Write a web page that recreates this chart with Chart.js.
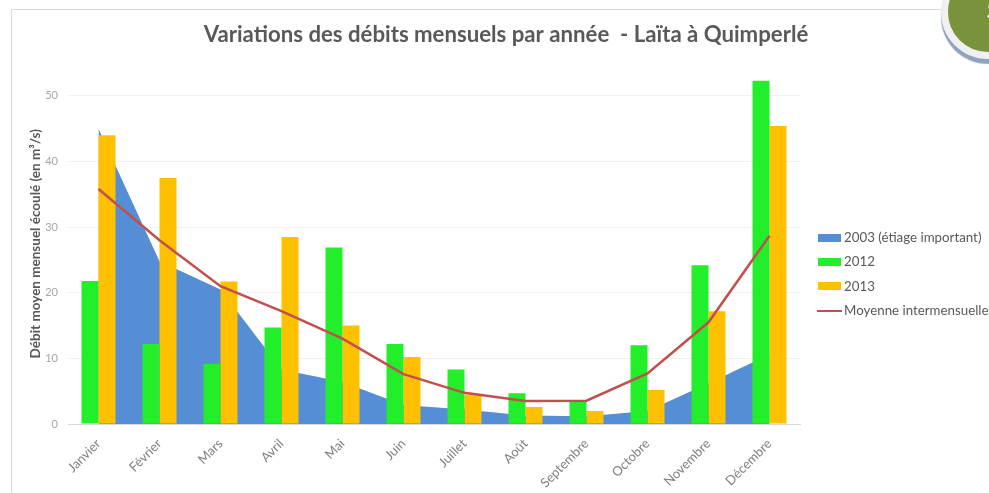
<!DOCTYPE html>
<html><head><meta charset="utf-8">
<style>
html,body{margin:0;padding:0;background:#fff;overflow:hidden}
#wrap{position:relative;width:989px;height:493px;overflow:hidden}
#c{position:absolute;left:0;top:0}
#frameL{position:absolute;left:11px;top:9px;width:1px;height:484px;background:#d9d9d9}
#frameT{position:absolute;left:11px;top:9px;width:935px;height:1px;background:#d9d9d9}
#badge{position:absolute;left:941px;top:-35px;width:80px;height:80px;border-radius:50%;background:#78933c;border:7px solid #f0f0f0;box-sizing:content-box;box-shadow:0 5px 1px #8fa3bd;overflow:hidden;color:#fff;font:bold 28px "Lato"}
#badge span{position:absolute;left:38px;top:19px}
</style></head><body><div id="wrap">
<div id="frameL"></div><div id="frameT"></div>
<canvas id="c" width="989" height="493"></canvas>
<div id="badge"><span>5</span></div>
</div>
<script src="https://cdn.jsdelivr.net/npm/chart.js@4"></script>
<script>
const months=["Janvier","Février","Mars","Avril","Mai","Juin","Juillet","Août","Septembre","Octobre","Novembre","Décembre"];
const y2003=[45,24.8,20.5,8.3,6.4,2.9,2.2,1.3,1.2,2,6.2,10.6];
const y2012=[21.8,12.2,9.2,14.7,26.9,12.2,8.3,4.7,3.6,12,24.2,52.3];
const y2013=[44,37.5,21.7,28.5,15,10.2,4.5,2.6,2,5.2,17.2,45.4];
const moyenne=[35.8,28,21,17.2,13,7.6,4.75,3.5,3.55,7.7,15.5,28.7];
const title="Variations des débits mensuels par année  - Laïta à Quimperlé";
const yTitle="Débit moyen mensuel écoulé (en m³/s)";
const font="Lato";
function swatch(w,h,color){const s=document.createElement('canvas');s.width=w;s.height=h;const g=s.getContext('2d');g.fillStyle=color;g.fillRect(0,0,w,h);return s;}
const legendStyles=[swatch(23,8,'#558ed5'),swatch(23,8,'#22ee2a'),swatch(23,8,'#ffc000'),swatch(25,2,'#c0504d')];
new Chart(document.getElementById('c'),{
 data:{labels:months,datasets:[
  {type:'line',label:'2003 (étiage important)',data:y2003,borderWidth:0,borderColor:'#558ed5',backgroundColor:'#558ed5',pointRadius:0,tension:0,fill:'origin',order:3},
  {type:'bar',label:'2012',data:y2012,backgroundColor:'#22ee2a',order:2},
  {type:'bar',label:'2013',data:y2013,backgroundColor:'#ffc000',order:2},
  {type:'line',label:'Moyenne intermensuelle',data:moyenne,borderColor:'#c0504d',backgroundColor:'#c0504d',borderWidth:2.5,pointRadius:0,tension:0,fill:false,order:1}
 ]},
 options:{responsive:false,animation:false,
  layout:{padding:{left:0,right:189,top:0,bottom:0}},
  datasets:{bar:{barPercentage:1,categoryPercentage:34/61}},
  scales:{
   x:{grid:{display:false},border:{color:'#d9d9d9'},
      afterFit(s){s.height=69},
      ticks:{color:'#7f7f7f',font:{family:font,size:13},maxRotation:45,minRotation:45,padding:4,autoSkip:false}},
   y:{min:0,max:54,grid:{color:'#f0f0f0',drawTicks:false},border:{display:false},
      afterFit(s){s.width=68},
      ticks:{stepSize:10,includeBounds:false,color:'#a6a6a6',font:{family:font,size:11},padding:10},
      title:{display:true,text:yTitle,color:'#595959',font:{family:font,size:13.5,weight:'bold'},padding:{top:28,bottom:0}}}
  },
  plugins:{
   title:{display:true,text:title,color:'#595959',font:{family:font,size:22.2,weight:'bold'},padding:{top:22,bottom:21}},
   legend:{display:true,position:'chartArea',align:'start',
    labels:{color:'#595959',font:{family:font,size:13.3},usePointStyle:true,pointStyleWidth:16,boxHeight:8,padding:11.1,
     generateLabels(ch){return ch.data.datasets.map((d,i)=>({text:d.label,datasetIndex:i,pointStyle:legendStyles[i],fontColor:'#595959',lineWidth:0,hidden:false}));}}},
   tooltip:{enabled:false}
  }
 },
 plugins:[{id:'placeBlocks',
  afterLayout(ch){
   const l=ch.legend;const w=l.right-l.left,h=l.bottom-l.top;
   l.left=810.3;l.right=l.left+w;l.top=219.8;l.bottom=l.top+h;
   ch.titleBlock.left=23;ch.titleBlock.right=989;
   ch.scales.y.top=63.5;
  }}]
});
</script></body></html>
